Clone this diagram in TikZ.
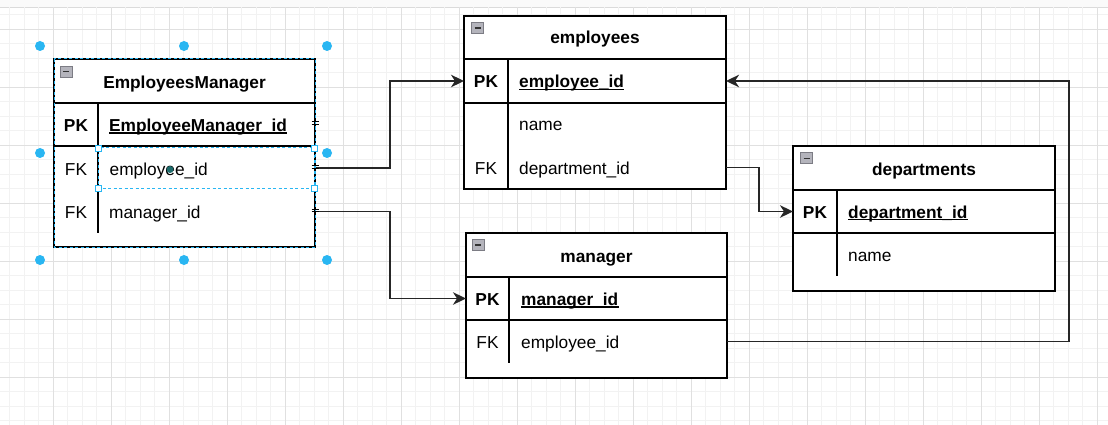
\documentclass[tikz,border=0pt]{standalone}
\usepackage{fontspec}
\setmainfont{Liberation Sans}
\usetikzlibrary{arrows.meta}
\definecolor{gridminor}{HTML}{F2F2F2}
\definecolor{gridmajor}{HTML}{E0E0E0}
\definecolor{selblue}{HTML}{29B6F2}
\definecolor{linegray}{HTML}{262626}
\definecolor{dotteal}{HTML}{1E6B6B}
\definecolor{iconfill}{HTML}{B4B4BC}
\definecolor{iconedge}{HTML}{7C7C84}
\newcommand\myfs{\fontsize{17.3}{20}\selectfont}
\tikzset{
  tbl/.style={draw=black, fill=white, line width=1.3pt, inner sep=0pt, outer sep=0pt, anchor=north west},
  rowbox/.style={inner sep=0pt, outer sep=0pt, anchor=north west},
  sepline/.style={draw=black, line width=1.2pt},
  hdr/.style={font=\bfseries\myfs, anchor=base, inner sep=0pt},
  keyb/.style={font=\bfseries\myfs, anchor=base, inner sep=0pt},
  keyr/.style={font=\myfs, anchor=base, inner sep=0pt},
  fld/.style={font=\myfs, anchor=base west, inner sep=0pt},
  fldpk/.style={font=\bfseries\myfs, anchor=base west, inner sep=0pt},
  icon/.style={draw=iconedge, fill=iconfill, line width=0.8pt, minimum width=12pt, minimum height=11pt, inner sep=0pt,
    path picture={\draw[line width=1.6pt, black!80] ([xshift=3pt]path picture bounding box.west) -- ([xshift=-3pt]path picture bounding box.east);}},
  conn/.style={draw=linegray, line width=1.8pt, -{Stealth[length=13pt,width=12.5pt,inset=4pt]}},
  handle/.style={circle, fill=selblue, inner sep=0pt, minimum size=10pt},
  sqhandle/.style={draw=selblue, fill=white, line width=0.8pt, inner sep=0pt, minimum size=6pt},
  seldash/.style={draw=selblue, line width=1pt, dash pattern=on 3pt off 2.5pt},
  tick/.style={draw=black, line width=0.8pt},
}
\newcommand\ulpk[1]{\draw[line width=1.3pt] ([yshift=-1.8pt]#1.base west) -- ([yshift=-1.8pt]#1.base east);}
\begin{document}
\begin{tikzpicture}[x=1pt,y=-1pt]
\useasboundingbox (0,0) rectangle (1108,425);
% background and grid
\fill[white] (0,0) rectangle (1108,425);
\fill[black!2] (0,0) rectangle (1108,7);
\draw[black!14, line width=0.8pt] (0,7) -- (1108,7);
\foreach \i in {0,...,77} {\pgfmathsetmacro\xx{-4.7+14.5*\i}\draw[gridminor, line width=0.8pt] (\xx,7.5) -- (\xx,425);}
\foreach \k in {3,...,31} {\pgfmathsetmacro\yy{-28.7+14.5*\k}\draw[gridminor, line width=0.8pt] (0,\yy) -- (1108,\yy);}
\foreach \i in {0,...,19} {\pgfmathsetmacro\xx{-4.7+58*\i}\draw[gridmajor, line width=0.8pt] (\xx,7.5) -- (\xx,425);}
\foreach \k in {0,...,6} {\pgfmathsetmacro\yy{29.3+58*\k}\draw[gridmajor, line width=0.8pt] (0,\yy) -- (1108,\yy);}

% ---------- EmployeesManager ----------
\node[tbl, minimum width=261pt, minimum height=188pt] (em) at (54,59) {};
\node[rowbox, minimum width=261pt, minimum height=43pt] (em-r1) at (54,103) {};
\node[rowbox, minimum width=261pt, minimum height=44pt] (em-r2) at (54,146) {};
\node[rowbox, minimum width=261pt, minimum height=43pt] (em-r3) at (54,190) {};
\draw[sepline] (em-r1.north west) -- (em-r1.north east);
\draw[sepline] (em-r1.south west) -- (em-r1.south east);
\draw[sepline] (98,103) -- (98,233);
\node[icon] (em-ic) at (66.3,71.5) {};
\node[hdr] (em-h) at (184.5,88.5) {EmployeesManager};
\node[keyb] (em-k1) at (76,131.3) {PK};
\node[fldpk] (em-f1) at (109,131.3) {EmployeeManager\_id};
\ulpk{em-f1}
\node[keyr] (em-k2) at (76,175.3) {FK};
\node[fld] (em-f2) at (109.5,175.3) {employee\_id};
\node[keyr] (em-k3) at (76,218) {FK};
\node[fld] (em-f3) at (109,218) {manager\_id};

% ---------- employees ----------
\node[tbl, minimum width=262pt, minimum height=173pt] (emp) at (464,16) {};
\node[rowbox, minimum width=262pt, minimum height=44pt] (emp-r1) at (464,59) {};
\node[rowbox, minimum width=262pt, minimum height=43pt] (emp-r2) at (464,103) {};
\node[rowbox, minimum width=262pt, minimum height=43pt] (emp-r3) at (464,146) {};
\draw[sepline] (emp-r1.north west) -- (emp-r1.north east);
\draw[sepline] (emp-r1.south west) -- (emp-r1.south east);
\draw[sepline] (508,59) -- (508,189);
\node[icon] (emp-ic) at (477.7,28.3) {};
\node[hdr] (emp-h) at (595,43.8) {employees};
\node[keyb] (emp-k1) at (486,87.6) {PK};
\node[fldpk] (emp-f1) at (519,87.6) {employee\_id};
\ulpk{emp-f1}
\node[fld] (emp-f2) at (519,131) {name};
\node[keyr] (emp-k3) at (486,175) {FK};
\node[fld] (emp-f3) at (519,175) {department\_id};

% ---------- departments ----------
\node[tbl, minimum width=262pt, minimum height=145pt] (dep) at (793,146) {};
\node[rowbox, minimum width=262pt, minimum height=43pt] (dep-r1) at (793,190) {};
\node[rowbox, minimum width=262pt, minimum height=43pt] (dep-r2) at (793,233) {};
\draw[sepline] (dep-r1.north west) -- (dep-r1.north east);
\draw[sepline] (dep-r1.south west) -- (dep-r1.south east);
\draw[sepline] (837,190) -- (837,276);
\node[icon] (dep-ic) at (806.7,158.3) {};
\node[hdr] (dep-h) at (924,175.3) {departments};
\node[keyb] (dep-k1) at (815,218) {PK};
\node[fldpk] (dep-f1) at (848,218) {department\_id};
\ulpk{dep-f1}
\node[fld] (dep-f2) at (848,261) {name};

% ---------- manager ----------
\node[tbl, minimum width=261pt, minimum height=145pt] (mgr) at (466,233) {};
\node[rowbox, minimum width=261pt, minimum height=43pt] (mgr-r1) at (466,277) {};
\node[rowbox, minimum width=261pt, minimum height=43pt] (mgr-r2) at (466,320) {};
\draw[sepline] (mgr-r1.north west) -- (mgr-r1.north east);
\draw[sepline] (mgr-r1.south west) -- (mgr-r1.south east);
\draw[sepline] (509,277) -- (509,363);
\node[icon] (mgr-ic) at (478.3,245.2) {};
\node[hdr] (mgr-h) at (596.5,262) {manager};
\node[keyb] (mgr-k1) at (487.5,305.3) {PK};
\node[fldpk] (mgr-f1) at (521,305.3) {manager\_id};
\ulpk{mgr-f1}
\node[keyr] (mgr-k2) at (487.5,348.6) {FK};
\node[fld] (mgr-f2) at (521,348.6) {employee\_id};

% ---------- connectors ----------
\draw[conn] (em-r2.east) -- ++(75,0) |- (emp-r1.west);
\draw[conn] (em-r3.east) -- ++(75,0) |- (mgr-r1.west);
\draw[conn] (emp-r3.east) -- ++(33,0) |- (dep-r1.west);
\draw[conn] (mgr-r2.east) -- ++(342,0) |- (emp-r1.east);

% ---------- selection overlay ----------
\draw[seldash] (em.north west) rectangle (em.south east);
\draw[seldash] (98.5,148) rectangle (314,188);
\foreach \p/\q [count=\n] in {98.5/148, 314/148, 98.5/188, 314/188} {\node[sqhandle] (sq\n) at (\p,\q) {};}
\foreach \p/\q [count=\n] in {40/46, 184/46, 327/46, 40/153, 327/153, 40/260, 184/260, 327/260} {\node[handle] (hd\n) at (\p,\q) {};}
\fill[dotteal] (170,169.5) circle (3.5pt);
\foreach \yy in {123, 167, 210.5} {\draw[tick] (311.5,\yy-1.3) -- (318.5,\yy-1.3) (311.5,\yy+1.3) -- (318.5,\yy+1.3);}
\end{tikzpicture}
\end{document}
